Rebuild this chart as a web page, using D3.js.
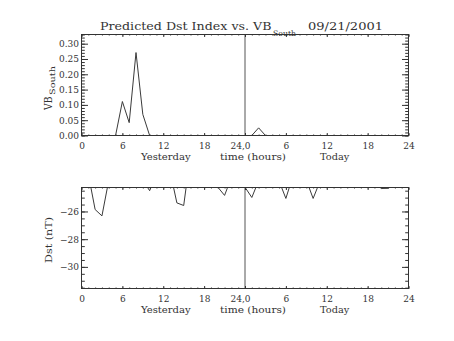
<!DOCTYPE html>
<html><head><meta charset="utf-8">
<script src="https://cdn.jsdelivr.net/npm/d3@7"></script>
<style>
body{margin:0;background:#fff}
text{font-family:"DejaVu Serif","Liberation Serif",serif;fill:#333}
</style>
</head><body>
<svg id="c" width="454" height="341"></svg>
<script>
// ---- data (hourly, 0 = start of yesterday, 24 = start of today) ----
const hours = [0,1,2,3,4,5,6,7,8,9,10,11,12,13,14,15,16,17,18,19,20,21,22,23,24,25,26,27,28,29,30,31,32,33,34,35,36,37,38,39,40,41,42,43,44,45,46,47,48];
const vbSouth = [0,0,0,0,0,0,0.111,0.042,0.271,0.069,0,0,0,0,0,0,0,0,0,0,0,0,0,0,0,0,0.025,0,0,0,0,0,0,0,0,0,0,0,0,0,0,0,0,0,0,0,0,0,0];
const dst = [-22.8,-23.3,-25.86,-26.32,-23.76,-23.2,-22.9,-23.0,-23.3,-23.73,-24.5,-23.35,-23.0,-23.1,-25.38,-25.57,-21.9,-23.0,-23.5,-23.9,-24.24,-24.84,-23.54,-23.6,-24.25,-24.99,-23.78,-23.5,-23.4,-23.8,-25.06,-23.48,-23.3,-23.73,-25.06,-23.83,-23.5,-23.6,-23.7,-23.5,-23.4,-23.6,-23.8,-23.9,-24.34,-24.33,-23.9,-23.7,-23.6];
const xTickValues = [0,6,12,18,24,30,36,42,48];
const xTickLabels = ["0","6","12","18","24,0","6","12","18","24"];
const xMinorTicks = hours;
const vbTicks = [0,0.05,0.10,0.15,0.20,0.25,0.30];
const vbMinorTicks = [0,0.01,0.02,0.03,0.04,0.05,0.06,0.07,0.08,0.09,0.10,0.11,0.12,0.13,0.14,0.15,0.16,0.17,0.18,0.19,0.20,0.21,0.22,0.23,0.24,0.25,0.26,0.27,0.28,0.29,0.30,0.31,0.32,0.33];
const dstTicks = [-26,-28,-30];
const dstMinorTicks = [-24.5,-25,-25.5,-26,-26.5,-27,-27.5,-28,-28.5,-29,-29.5,-30,-30.5,-31,-31.5];
const vbDomain = [0,0.33];
const dstDomain = [-31.56,-24.27];
const xDomain = [0,48];
const titleMain = "Predicted Dst Index vs. VB";
const titleSub = "South";
const titleDate = "09/21/2001";
const xTitles = ["Yesterday","time (hours)","Today"];

const svg = d3.select("#c");
const L = 81.5, R = 408.5;
const x = d3.scaleLinear().domain(xDomain).range([L,R]);
const axisColor = "#333";
const FONT = "DejaVu Serif";

function panel(cfg){
  const {top, bottom, y, majors, minors, fmt, data, id} = cfg;
  const g = svg.append("g");
  g.append("clipPath").attr("id",id).append("rect")
    .attr("x",L).attr("y",top).attr("width",R-L).attr("height",bottom-top);
  const line = d3.line().x((d,i)=>x(hours[i])).y(d=>y(d));
  g.append("path").datum(data).attr("d",line).attr("fill","none")
    .attr("stroke","#3a3a3a").attr("stroke-width",1).attr("clip-path",`url(#${id})`);
  g.append("line").attr("x1",x(24)).attr("x2",x(24)).attr("y1",top).attr("y2",bottom)
    .attr("stroke","#555").attr("stroke-width",1);
  g.append("rect").attr("x",L).attr("y",top).attr("width",R-L).attr("height",bottom-top)
    .attr("fill","none").attr("stroke",axisColor).attr("stroke-width",1);
  const style = sel => { sel.select(".domain").remove(); sel.selectAll("line").attr("stroke",axisColor); };
  g.append("g").attr("transform",`translate(0,${bottom})`)
    .call(d3.axisBottom(x).tickValues(xMinorTicks).tickSize(-1).tickFormat(""))
    .call(style);
  const xb = g.append("g").attr("transform",`translate(0,${bottom})`)
    .call(d3.axisBottom(x).tickValues(xTickValues).tickSize(-2.5).tickPadding(7)
      .tickFormat((d,i)=>xTickLabels[i]))
    .call(style);
  xb.selectAll("text").attr("font-size",9).attr("fill","#333")
    .attr("font-family",FONT)
    .attr("dx",(d,i)=>xTickLabels[i]==="24,0"?-5:0);
  g.append("g").attr("transform",`translate(0,${top})`)
    .call(d3.axisTop(x).tickValues(xMinorTicks).tickSize(-1).tickFormat("")).call(style);
  g.append("g").attr("transform",`translate(0,${top})`)
    .call(d3.axisTop(x).tickValues(xTickValues).tickSize(-2.5).tickFormat("")).call(style);
  g.append("g").attr("transform",`translate(${L},0)`)
    .call(d3.axisLeft(y).tickValues(minors).tickSize(-3.3).tickFormat("")).call(style);
  const yl = g.append("g").attr("transform",`translate(${L},0)`)
    .call(d3.axisLeft(y).tickValues(majors).tickSize(-6.5).tickPadding(2.5).tickFormat(fmt))
    .call(style);
  yl.selectAll("text").attr("font-size",9).attr("fill","#333").attr("font-family",FONT);
  g.append("g").attr("transform",`translate(${R},0)`)
    .call(d3.axisRight(y).tickValues(minors).tickSize(-3.3).tickFormat("")).call(style);
  g.append("g").attr("transform",`translate(${R},0)`)
    .call(d3.axisRight(y).tickValues(majors).tickSize(-6.5).tickFormat("")).call(style);
  const xt = [165.8, 253, 334.7];
  const xw = [49.7, 66, 29.3];
  xTitles.forEach((t,i)=>{
    g.append("text").attr("x",xt[i]-xw[i]/2).attr("y",bottom+24)
      .attr("font-size",9.5).attr("textLength",xw[i]).attr("lengthAdjust","spacingAndGlyphs").text(t);
  });
  return g;
}

const yTop = d3.scaleLinear().domain(vbDomain).range([135.5,34.5]);
const yBot = d3.scaleLinear().domain(dstDomain).range([288.5,187.5]);

panel({top:34.5,bottom:135.5,y:yTop,majors:vbTicks,minors:vbMinorTicks,
  fmt:d3.format(".2f"),data:vbSouth,id:"clipTop"});
panel({top:187.5,bottom:288.5,y:yBot,majors:dstTicks,minors:dstMinorTicks,
  fmt:d3.format("d"),data:dst,id:"clipBot"});

svg.append("text").attr("x",100).attr("y",30).attr("font-size",11)
  .attr("textLength",171.5).attr("lengthAdjust","spacingAndGlyphs").text(titleMain);
svg.append("text").attr("x",273).attr("y",36).attr("font-size",7.5)
  .attr("textLength",23).attr("lengthAdjust","spacingAndGlyphs").text(titleSub);
svg.append("text").attr("x",308).attr("y",30).attr("font-size",11.5)
  .attr("textLength",75).attr("lengthAdjust","spacingAndGlyphs").text(titleDate);

// y title, top panel: "VB" with subscript "South"
svg.append("text").attr("transform","translate(52,110) rotate(-90)")
  .attr("font-size",11).attr("textLength",13.5).attr("lengthAdjust","spacingAndGlyphs").text("VB");
svg.append("text").attr("transform","translate(55,95) rotate(-90)")
  .attr("font-size",7.5).attr("textLength",29).attr("lengthAdjust","spacingAndGlyphs").text(titleSub);

svg.append("text").attr("transform","translate(51.5,240) rotate(-90)")
  .attr("text-anchor","middle").attr("font-size",9.5)
  .attr("textLength",46).attr("lengthAdjust","spacingAndGlyphs").text("Dst (nT)");
</script>
</body></html>
